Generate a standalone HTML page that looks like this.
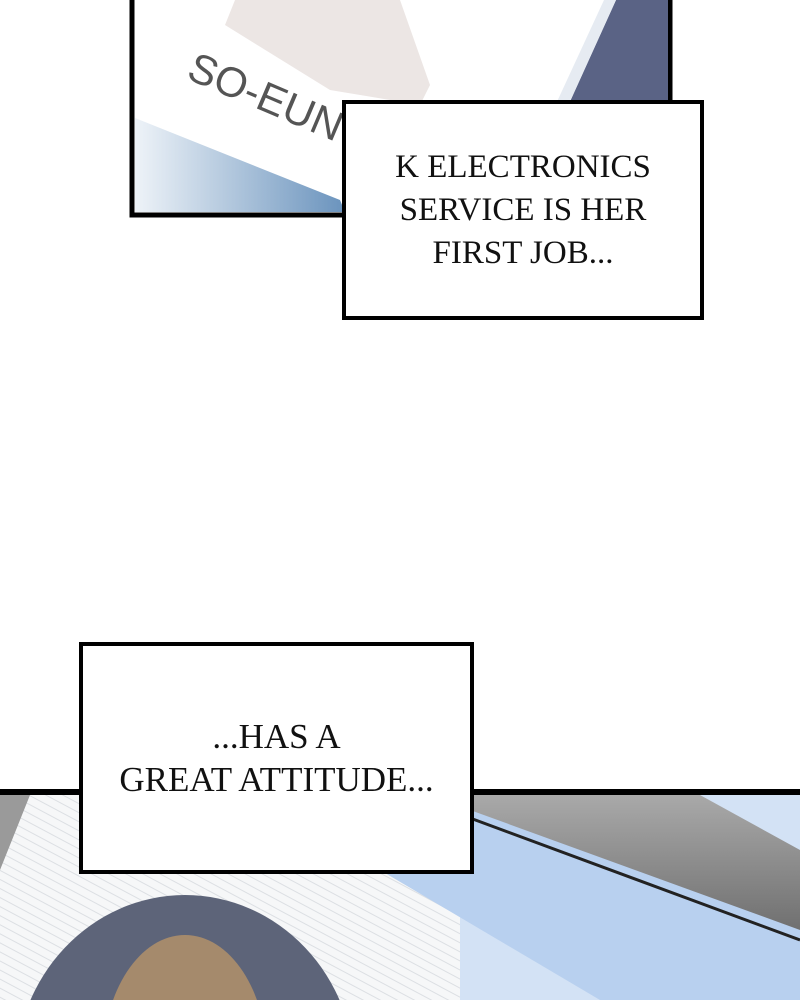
<!DOCTYPE html>
<html style="overflow:hidden;width:800px;height:1000px"><head><meta charset="utf-8"><style>
body{margin:0;width:800px;height:1000px;overflow:hidden;background:#fff;position:relative;font-family:"Liberation Serif",serif}
.cap{position:absolute;background:#fff;border:4px solid #000;box-sizing:border-box;display:flex;align-items:center;justify-content:center;text-align:center;font-size:33px;line-height:43px;color:#111}
</style></head><body>
<svg width="800" height="1000" viewBox="0 0 800 1000" style="position:absolute;left:0;top:0;overflow:hidden">
<defs>
<clipPath id="cp"><rect x="0" y="0" width="800" height="1000"/></clipPath>
<linearGradient id="bg1" x1="0" y1="0" x2="1" y2="0"><stop offset="0" stop-color="#eef3f8"/><stop offset="1" stop-color="#6a93bd"/></linearGradient>
<linearGradient id="gr" x1="0" y1="0" x2="0" y2="1"><stop offset="0" stop-color="#a9a9a9"/><stop offset="1" stop-color="#707070"/></linearGradient>
<pattern id="st" width="10" height="8" patternUnits="userSpaceOnUse" patternTransform="rotate(28)"><rect width="10" height="8" fill="#f6f7f8"/><rect width="10" height="1" fill="#dcdfe3"/></pattern>
</defs>
<g clip-path="url(#cp)">
<rect x="132" y="-5" width="538" height="220" fill="#fff" stroke="#000" stroke-width="5"/>
<polygon points="616,0 668,0 668,212 520,212" fill="#5a6385"/>
<polygon points="604,0 616,0 520,212 506,212" fill="#e6ebf2"/>
<polygon points="135,118 340,200 345,212 135,212" fill="url(#bg1)"/>
<polygon points="235,0 400,0 430,85 420,105 330,90 225,25" fill="#ece6e4"/>
<text x="0" y="0" transform="translate(185,78) rotate(23)" font-family="Liberation Sans,sans-serif" font-size="42" fill="#555">SO-EUN</text>
<rect x="0" y="792" width="800" height="208" fill="url(#st)"/>
<polygon points="0,795 30,795 0,870" fill="#9a9a9a"/>
<polygon points="460,795 800,795 800,1000 460,1000" fill="#d3e2f5"/>
<polygon points="380,870 470,800 800,930 800,1000 600,1000" fill="#b8d0ef"/>
<polygon points="470,795 700,795 800,850 800,930 470,810" fill="url(#gr)"/>
<line x1="470" y1="818" x2="800" y2="940" stroke="#222" stroke-width="3"/>
<line x1="0" y1="792" x2="800" y2="792" stroke="#000" stroke-width="6"/>
<ellipse cx="185" cy="1075" rx="170" ry="180" fill="#5d6479"/>
<ellipse cx="185" cy="1060" rx="82" ry="125" fill="#a58a6c"/>
<ellipse cx="200" cy="1030" rx="38" ry="30" fill="#f5ece8"/>
</g>
</svg>
<div class="cap" style="left:342px;top:100px;width:362px;height:220px">K ELECTRONICS<br>SERVICE IS HER<br>FIRST JOB...</div>
<div class="cap" style="left:79px;top:642px;width:395px;height:232px;font-size:35px">...HAS A<br>GREAT ATTITUDE...</div>
</body></html>
